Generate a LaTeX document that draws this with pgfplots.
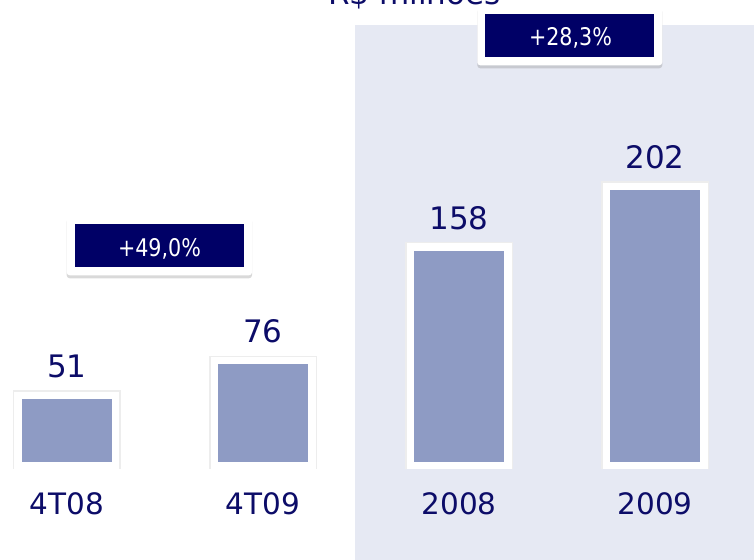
\documentclass[border=0pt]{standalone}
\usepackage{pgfplots}
\pgfplotsset{compat=1.18}
\usepackage{fontspec}
\setmainfont{DejaVu Sans}
\newfontfamily\condfont[FakeStretch=0.85]{DejaVu Sans}
\usetikzlibrary{shadows}
\definecolor{navy}{RGB}{0,0,102}
\definecolor{txt}{RGB}{12,12,104}
\definecolor{barc}{RGB}{142,155,196}
\definecolor{panel}{RGB}{230,233,243}
\begin{document}
\begin{tikzpicture}
% shaded panel
\fill[panel] (355bp,0) rectangle (754bp,535bp);
\begin{axis}[
  at={(0,91.7bp)}, anchor=south west,
  scale only axis, width=754bp, height=468.3bp,
  xmin=-0.3418, xmax=3.505, ymin=-1.73, ymax=336.6,
  axis line style={draw=none}, major tick length=0pt,
  ytick=\empty,
  /pgf/number format/assume math mode=true,
  xtick={0,1,2,3}, xticklabels={4T08,4T09,2008,2009},
  xticklabel style={font=\fontsize{29.5bp}{34bp}\selectfont, text=txt, anchor=base, yshift=-46.2bp, inner sep=0pt},
  ybar, bar width=97.5bp,
  nodes near coords,
  every node near coord/.append style={font=\fontsize{31bp}{36bp}\selectfont, text=txt, anchor=base, yshift=18bp, inner sep=0pt},
]
\addplot[fill=barc, draw=white, line width=7.5bp,
  preaction={draw=black!7, line width=10bp}]
  coordinates {(0,51) (1,76) (2,158) (3,202)};
\end{axis}
% title (mostly cut off at top, as in the reference)
\node[anchor=base, text=txt, inner sep=0pt, font=\fontsize{31bp}{36bp}\selectfont] at (414.5bp,555bp) {R\$ milhões};
% growth boxes
\fill[white, rounded corners=3bp, drop shadow={shadow xshift=0bp, shadow yshift=-3bp, opacity=0.3}] (66.7bp,284.7bp) rectangle (252bp,344.3bp);
\fill[navy] (75bp,292.7bp) rectangle (244bp,336bp);
\node[anchor=base, text=white, inner sep=0pt, font=\condfont\fontsize{24.3bp}{28bp}\selectfont] at (159.5bp,303.3bp) {+49,0\%};
\fill[white, rounded corners=3bp, drop shadow={shadow xshift=0bp, shadow yshift=-3bp, opacity=0.3}] (477.3bp,494.7bp) rectangle (662.3bp,554bp);
\fill[navy] (485.3bp,502.7bp) rectangle (654.3bp,546bp);
\node[anchor=base, text=white, inner sep=0pt, font=\condfont\fontsize{24.3bp}{28bp}\selectfont] at (570.5bp,514.3bp) {+28,3\%};
\pgfresetboundingbox
\useasboundingbox (0,0) rectangle (754bp,560bp);
\end{tikzpicture}
\end{document}
